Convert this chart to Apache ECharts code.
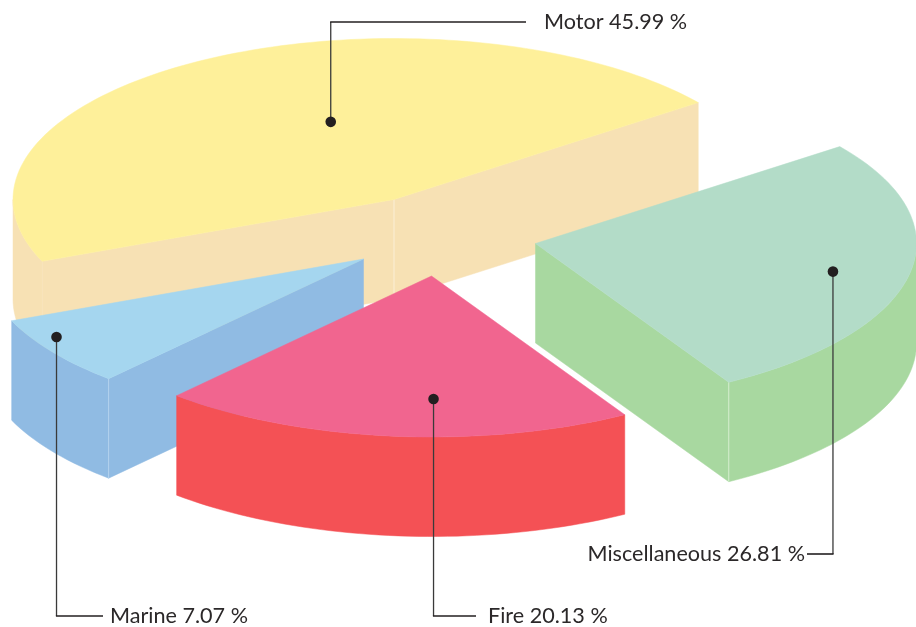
<!DOCTYPE html>
<html><head><meta charset="utf-8">
<style>html,body{margin:0;padding:0;background:#fff}#c{width:916px;height:627px}</style>
<script src="https://cdn.jsdelivr.net/npm/echarts@6/dist/echarts.min.js"></script>
</head><body><div id="c"></div>
<script>
// ---- data ----
const categories = ['Motor', 'Marine', 'Fire', 'Miscellaneous'];
const shares = [45.99, 7.07, 20.13, 26.81];
const percentLabels = ['45.99 %', '7.07 %', '20.13 %', '26.81 %'];

// ---- layout and style, on a hidden pixel-sized pair of axes ----
const W = 916, H = 627;
const startAngle = 37, RX = 381, RY = 161, DEPTH = 99.5;
const apexX = [394, 363.5, 431.5, 535.5];
const apexY = [199.5, 259, 276, 243.5];
const topColors = ['#FEF09A', '#A5D6EF', '#F1658F', '#B3DCC8'];
const sideColors = ['#F7E1B4', '#90BBE3', '#F45155', '#A8D8A0'];
const edgeColors = ['#FBEFD6', '#B4D3EE', '#F8A0A8', '#D6EDD0'];
// leader: dot position as [angle, radius fraction] inside the slice, elbow, label
const dotAngle = [109, 211, 270.4, -12.6];
const dotRadius = [0.51, 0.94, 0.764, 0.80];
const elbowY = [22, 616, 616, 554];
const tailX = [526, 103, 476, 807];
const labelX = [544, 110, 488, 805];
const labelAlign = ['left', 'left', 'left', 'right'];
const labelFont = 'Lato';

const rad = d => d * Math.PI / 180;
function rimPoints(i, a0, a1, dy) {
  const pts = [], n = Math.max(2, Math.ceil(Math.abs(a1 - a0) / 1.5));
  for (let k = 0; k <= n; k++) {
    const a = rad(a0 + (a1 - a0) * k / n);
    pts.push([apexX[i] + RX * Math.cos(a), apexY[i] - RY * Math.sin(a) + dy]);
  }
  return pts;
}
let acc = startAngle;
const spans = shares.map(v => { const s = [acc, acc + v * 3.6]; acc = s[1]; return s; });

function renderItem(params, api) {
  const i = api.value(0);
  const [a0, a1] = spans[i];
  const ax = apexX[i], ay = apexY[i];
  const px = p => api.coord(p);
  const base = i * 10;
  const poly = (pts, fill, z) => ({
    type: 'polygon', shape: { points: pts.map(px) },
    style: { fill, stroke: fill, lineWidth: 0.5 }, z2: base + z
  });
  const seg = (p, q, stroke, lineWidth, z) => ({
    type: 'line',
    shape: { x1: px(p)[0], y1: px(p)[1], x2: px(q)[0], y2: px(q)[1] },
    style: { stroke, lineWidth }, z2: base + z
  });
  const kids = [];
  const sx = (a) => ax + RX * Math.cos(rad(a));
  const sy = (a) => ay - RY * Math.sin(rad(a));
  // cut faces that look forward
  const endPt = [sx(a1), sy(a1)], startPt = [sx(a0), sy(a0)], apex = [ax, ay];
  const face = (p) => poly([apex, p, [p[0], p[1] + DEPTH], [ax, ay + DEPTH]], sideColors[i], 1);
  if (i === 0) { kids.push(face(startPt), face(endPt)); }
  if (i === 1) { kids.push(face(endPt)); }
  if (i === 3) { kids.push(face(startPt)); }
  // outer wall: the visible rim runs along the lower half of the ellipse
  const wall0 = Math.max(a0, 180), wall1 = Math.min(a1, 360);
  if (wall1 > wall0) {
    const upper = rimPoints(i, wall0, wall1, 0);
    const lower = rimPoints(i, wall1, wall0, DEPTH);
    kids.push(poly(upper.concat(lower), sideColors[i], 1));
  }
  // top
  kids.push(poly([apex].concat(rimPoints(i, a0, a1, 0)), topColors[i], 3));
  // pale edges where faces meet
  if (i === 0) kids.push(seg(apex, [ax, ay + DEPTH], edgeColors[i], 1, 2));
  if (i === 0) kids.push(seg(endPt, [endPt[0], endPt[1] + DEPTH], '#F8E4BC', 0.5, 2));
  if (i === 1) kids.push(seg(endPt, [endPt[0], endPt[1] + DEPTH], edgeColors[i], 1, 2));
  if (i === 3) kids.push(seg(startPt, [startPt[0], startPt[1] + DEPTH], edgeColors[i], 1, 2));
  return { type: 'group', children: kids };
}

function renderLeader(params, api) {
  const i = api.value(0);
  const a = rad(dotAngle[i]);
  const dot = [apexX[i] + RX * dotRadius[i] * Math.cos(a), apexY[i] - RY * dotRadius[i] * Math.sin(a)];
  const d = api.coord(dot), e = api.coord([dot[0], elbowY[i]]), t = api.coord([tailX[i], elbowY[i]]), l = api.coord([labelX[i], elbowY[i]]);
  return { type: 'group', children: [
    { type: 'line', shape: { x1: d[0], y1: d[1], x2: e[0], y2: e[1] }, style: { stroke: '#3a3a3a', lineWidth: 1.3 } },
    { type: 'line', shape: { x1: e[0] - (t[0] > e[0] ? 0.6 : -0.6), y1: e[1], x2: t[0], y2: t[1] }, style: { stroke: '#231F20', lineWidth: 1.6 } },
    { type: 'circle', shape: { cx: d[0], cy: d[1], r: 5.3 }, style: { fill: '#231F20' } },
    { type: 'text', x: l[0], y: l[1], style: {
      text: categories[i] + ' ' + percentLabels[i], fill: '#2b2829',
      font: '21.6px ' + labelFont, align: labelAlign[i], verticalAlign: 'middle' } }
  ] };
}

const chart = echarts.init(document.getElementById('c'), null, { renderer: 'canvas' });
const rows = shares.map((v, i) => [i, v]);
chart.setOption({
  animation: false,
  backgroundColor: '#ffffff',
  grid: { left: 0, top: 0, width: W, height: H },
  xAxis: { type: 'value', min: 0, max: W, show: false },
  yAxis: { type: 'value', min: 0, max: H, inverse: true, show: false },
  series: [
    { type: 'custom', name: 'slices', coordinateSystem: 'cartesian2d', renderItem, data: rows, clip: false, z: 2 },
    { type: 'custom', name: 'leaders', coordinateSystem: 'cartesian2d', renderItem: renderLeader, data: rows, clip: false, z: 3 }
  ]
});
</script></body></html>
